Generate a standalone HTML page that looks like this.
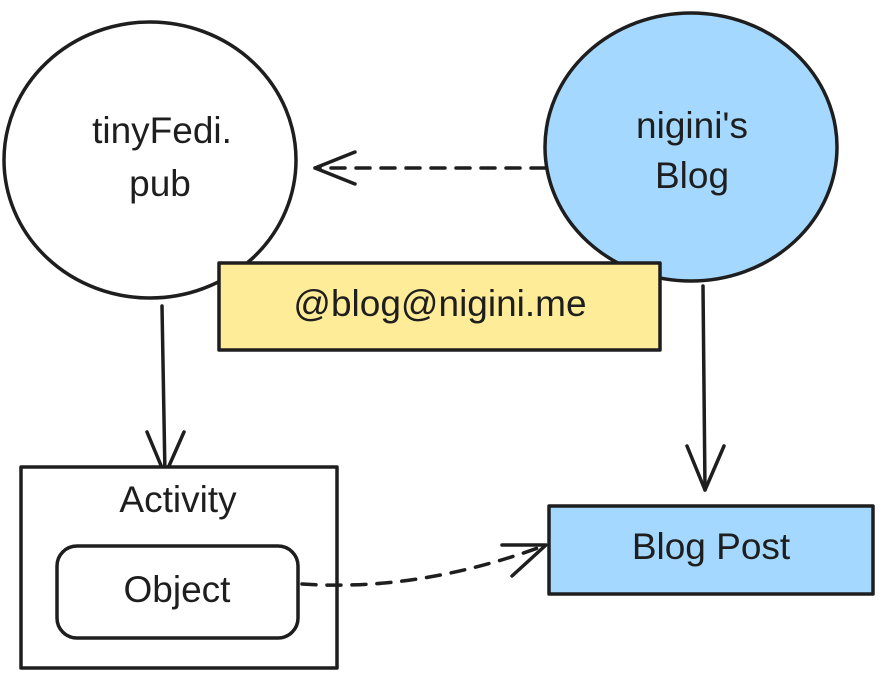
<!DOCTYPE html>
<html><head><meta charset="utf-8"><style>
html,body{margin:0;padding:0;background:#fff;width:893px;height:690px;overflow:hidden}
text{font-family:"Liberation Sans",sans-serif;font-size:37px;fill:#1e1e1e;text-anchor:middle;dominant-baseline:middle}
</style></head><body>
<svg width="893" height="690" viewBox="0 0 893 690" xmlns="http://www.w3.org/2000/svg">
<g stroke="#1e1e1e" stroke-width="3.5" fill="none" stroke-linecap="round" stroke-linejoin="round">
<ellipse cx="150" cy="160" rx="146" ry="138" fill="#fff"/>
<ellipse cx="691" cy="147" rx="146" ry="134" fill="#a5d8ff"/>
<rect x="219" y="263" width="441" height="87" fill="#ffec99"/>
<path d="M545 168 L315 168" stroke-dasharray="14 11"/>
<path d="M355 152 L315 168 L355 184"/>
<path d="M162 306 L165 475"/>
<path d="M147 432 L165 475 L184 432"/>
<path d="M703 286 L705 490"/>
<path d="M687 446 L705 490 L724 446"/>
<rect x="21" y="467" width="316" height="201" fill="#fff"/>
<rect x="57" y="546" width="241" height="92" rx="20" fill="#fff"/>
<rect x="549" y="506" width="324" height="88" fill="#a5d8ff"/>
<path d="M302 584 Q420 592 546 545" stroke-dasharray="14 11"/>
<path d="M502 545 L546 545 L512 576"/>
</g>
<text x="162" y="133">tinyFedi.</text>
<text x="160" y="186">pub</text>
<text x="692" y="128">nigini's</text>
<text x="692" y="178">Blog</text>
<text x="440" y="306">@blog@nigini.me</text>
<text x="178" y="502">Activity</text>
<text x="177" y="592">Object</text>
<text x="711" y="549">Blog Post</text>
</svg>
</body></html>
